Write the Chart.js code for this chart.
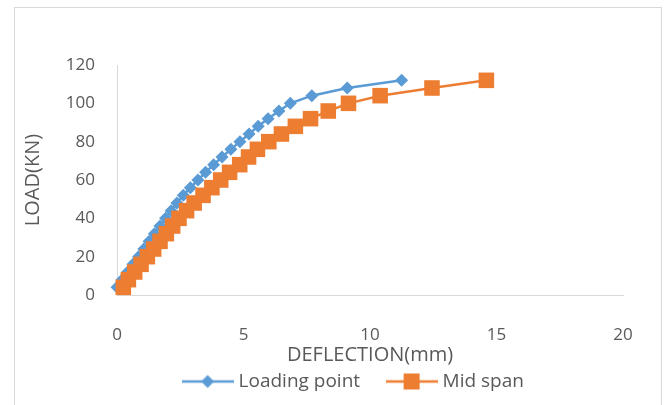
<!DOCTYPE html>
<html>
<head>
<meta charset="utf-8">
<script src="https://cdn.jsdelivr.net/npm/chart.js@4.4.1/dist/chart.umd.min.js"></script>
<style>
  html, body { margin: 0; padding: 0; background: #fff; }
  #wrap { width: 669px; height: 405px; }
</style>
</head>
<body>
<div id="wrap"><canvas id="chart" width="669" height="405"></canvas></div>
<script>
// load steps (kN)
const loads = [4, 8, 12, 16, 20, 24, 28, 32, 36, 40, 44, 48, 52, 56,
               60, 64, 68, 72, 76, 80, 84, 88, 92, 96, 100, 104, 108, 112];

// deflection (mm) under the loading point
const loadingPoint = [0.0, 0.2, 0.42, 0.63, 0.85, 1.06, 1.27, 1.48, 1.7, 1.92, 2.14, 2.37, 2.62, 2.9,
                      3.2, 3.5, 3.82, 4.15, 4.5, 4.86, 5.22, 5.58, 5.97, 6.4, 6.85, 7.7, 9.1, 11.25];

// deflection (mm) at mid span
const midSpan = [0.25, 0.45, 0.7, 0.95, 1.2, 1.45, 1.7, 1.95, 2.2, 2.45, 2.75, 3.05, 3.4, 3.75,
                 4.1, 4.45, 4.85, 5.2, 5.55, 6.0, 6.5, 7.05, 7.65, 8.35, 9.15, 10.4, 12.45, 14.6];

const seriesNames = ["Loading point", "Mid span"];
const xTickValues = [0, 5, 10, 15, 20];
const yTickValues = [0, 20, 40, 60, 80, 100, 120];

const BLUE = "#5b9bd5";
const ORANGE = "#ed7d31";
const TEXT = "#595959";
const FONT = "'Open Sans', sans-serif";

// little line + marker swatch for the legend
function swatch(color, style) {
    const c = document.createElement("canvas");
    c.width = 52;
    c.height = 20;
    const g = c.getContext("2d");
    g.strokeStyle = color;
    g.fillStyle = color;
    g.lineWidth = 2.5;
    g.beginPath();
    g.moveTo(0, 10);
    g.lineTo(52, 10);
    g.stroke();
    g.beginPath();
    if (style === "diamond") {
        g.moveTo(26, 3.5);
        g.lineTo(32.5, 10);
        g.lineTo(26, 16.5);
        g.lineTo(19.5, 10);
    } else {
        g.rect(18, 2, 16, 16);
    }
    g.fill();
    return c;
}
const legendSwatches = [swatch(BLUE, "diamond"), swatch(ORANGE, "square")];

// outer frame, fixed legend strip height and legend placement
const framePlugin = {
    id: "framePlugin",
    beforeLayout(chart) {
        const lg = chart.legend;
        if (lg && !lg._fixedFit) {
            const fit = lg.fit.bind(lg);
            lg.fit = function () { fit(); this.height = 30; };
            lg._fixedFit = true;
        }
    },
    afterLayout(chart) {
        const lg = chart.legend;
        const dx = 355 - (lg.left + lg.right) / 2;
        lg.left += dx;
        lg.right += dx;
        lg.top = 342;
        lg.bottom = 405;
    },
    beforeDraw(chart) {
        const ctx = chart.ctx;
        ctx.save();
        ctx.strokeStyle = "#d9d9d9";
        ctx.lineWidth = 1;
        ctx.strokeRect(14.5, 7.5, 647, 430);
        ctx.restore();
    }
};

new Chart(document.getElementById("chart"), {
    type: "scatter",
    data: {
        datasets: [
            {
                label: seriesNames[0],
                data: loads.map((y, i) => ({ x: loadingPoint[i], y: y })),
                showLine: true,
                borderColor: BLUE,
                backgroundColor: BLUE,
                borderWidth: 2.5,
                pointStyle: "rectRot",
                pointRadius: 6.5,
                pointBorderWidth: 0,
                order: 1,
                clip: false
            },
            {
                label: seriesNames[1],
                data: loads.map((y, i) => ({ x: midSpan[i], y: y })),
                showLine: true,
                borderColor: ORANGE,
                backgroundColor: ORANGE,
                borderWidth: 2.5,
                pointStyle: "rect",
                pointRadius: 11,
                pointBorderWidth: 0,
                order: 0,
                clip: false
            }
        ]
    },
    options: {
        responsive: false,
        devicePixelRatio: 1,
        animation: false,
        layout: { padding: { left: 14, top: 65, right: 46, bottom: 0 } },
        scales: {
            x: {
                type: "linear",
                min: xTickValues[0],
                max: xTickValues[xTickValues.length - 1],
                afterBuildTicks: (scale) => { scale.ticks = xTickValues.map(v => ({ value: v })); },
                afterFit: (scale) => { scale.height = 80; },
                grid: { display: false, drawTicks: false },
                border: { display: true, color: "#d9d9d9", width: 1 },
                ticks: { color: TEXT, font: { family: FONT, size: 17 }, padding: 30 },
                title: {
                    display: true,
                    text: "DEFLECTION(mm)",
                    color: TEXT,
                    font: { family: FONT, size: 20 },
                    padding: { top: 0, bottom: 8 }
                }
            },
            y: {
                min: yTickValues[0],
                max: yTickValues[yTickValues.length - 1],
                afterBuildTicks: (scale) => { scale.ticks = yTickValues.map(v => ({ value: v })); },
                afterFit: (scale) => { scale.width = 103; },
                grid: { display: false, drawTicks: false },
                border: { display: true, color: "#d9d9d9", width: 1 },
                ticks: { color: TEXT, font: { family: FONT, size: 17 }, padding: 22 },
                title: {
                    display: true,
                    text: "LOAD(KN)",
                    color: TEXT,
                    font: { family: FONT, size: 20 },
                    padding: { top: 7, bottom: 0 }
                }
            }
        },
        plugins: {
            tooltip: { enabled: false },
            legend: {
                position: "bottom",
                labels: {
                    color: TEXT,
                    font: { family: FONT, size: 19 },
                    usePointStyle: true,
                    pointStyleWidth: 43,
                    padding: 30,
                    sort: (a, b) => a.datasetIndex - b.datasetIndex,
                    generateLabels: (chart) => {
                        const items = Chart.defaults.plugins.legend.labels.generateLabels(chart);
                        items.forEach(it => { it.pointStyle = legendSwatches[it.datasetIndex]; });
                        return items;
                    }
                }
            }
        }
    },
    plugins: [framePlugin]
});
</script>
</body>
</html>
